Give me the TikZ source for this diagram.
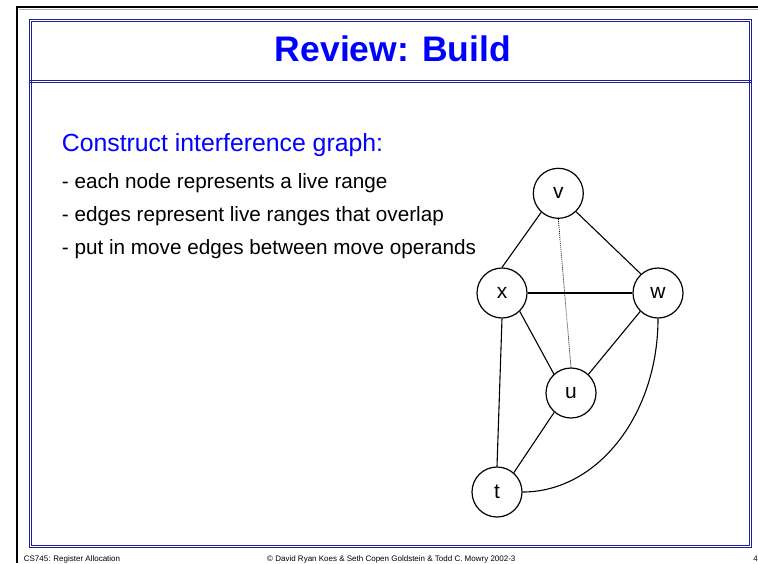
\documentclass[tikz,border=0pt]{standalone}
\usepackage{fontspec}
\setmainfont{Liberation Sans}
\definecolor{titleblue}{RGB}{0,0,255}
\definecolor{framenavy}{RGB}{30,30,150}
\begin{document}
\begin{tikzpicture}[x=1pt,y=-1pt,
  gnode/.style={circle,draw,line width=1.2pt,minimum size=50pt,inner sep=0pt,font=\fontsize{21}{24}\selectfont},
  gedge/.style={line width=1.1pt},
  mvedge/.style={line width=0.8pt,dash pattern=on 0.9pt off 1.1pt},
  txt/.style={anchor=base west,inner sep=0pt},
  bullet/.style={txt,font=\fontsize{20.7}{24}\selectfont},
  foot/.style={inner sep=0pt,font=\fontsize{8}{9}\selectfont},
  frameline/.style={framenavy,line width=0.9pt}
]
\useasboundingbox (0,0) rectangle (758,563);
\fill[white] (0,0) rectangle (758,563);
% outer black frame
\draw[black!30,line width=1pt] (19,9.8) -- (758,9.8);
\draw[line width=2pt] (17,563) -- (17,7) -- (758,7);
% blue double frame
\draw[frameline] (29.5,19.5) rectangle (751,547);
\draw[frameline] (31.5,21.5) rectangle (749,545);
\draw[frameline] (29.5,80.5) -- (751,80.5);
\draw[frameline] (29.5,82.4) -- (751,82.4);
% title
\node[anchor=base,inner sep=0pt,text=titleblue,font=\fontsize{35.5}{40}\selectfont\bfseries] (title) at (393,61.7) {Review: Build};
% text
\node[txt,text=titleblue,font=\fontsize{24.8}{28}\selectfont] (head) at (61.7,151) {Construct interference graph:};
\node[bullet] (b1) at (61.7,188) {- each node represents a live range};
\node[bullet] (b2) at (61.7,221) {- edges represent live ranges that overlap};
\node[bullet] (b3) at (61.7,254) {- put in move edges between move operands};
% graph
\node[gnode] (v) at (558.3,193.3) {v};
\node[gnode] (x) at (502,293) {x};
\node[gnode] (w) at (658,293) {w};
\node[gnode] (u) at (571,393) {u};
\node[gnode] (t) at (497,492) {t};
\draw[gedge] (v.228) -- (x.90);
\draw[gedge] (v.314) -- (w.132);
\draw[gedge] (x.0) -- (w.180);
\draw[gedge] (x.314) -- (u.132);
\draw[gedge] (w.226) -- (u.47);
\draw[gedge] (x.270) -- (t.90);
\draw[gedge] (u.229) -- (t.49);
\draw[gedge] (w.270) .. controls +(0,96) and +(75,0) .. (t.0);
\draw[mvedge] (v.270) -- (u.90);
% footer
\node[foot,anchor=base west] (f1) at (23.6,561) {CS745: Register Allocation};
\node[foot,anchor=base west] (f2) at (267,561) {\textcopyright{} David Ryan Koes \& Seth Copen Goldstein \& Todd C. Mowry 2002-3};
\node[foot,anchor=base east] (f3) at (758,561) {4};
\end{tikzpicture}
\end{document}
